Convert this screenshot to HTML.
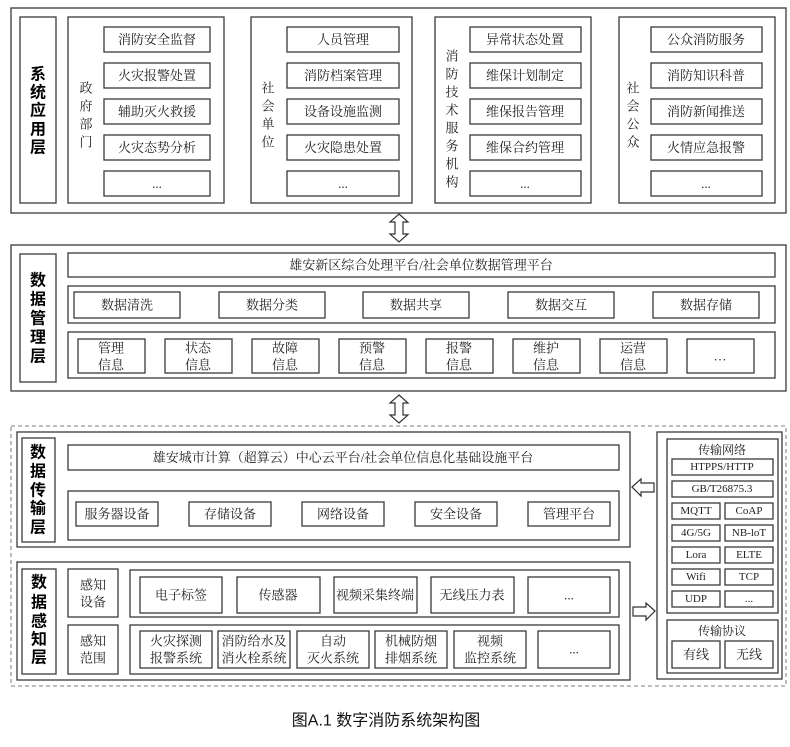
<!DOCTYPE html>
<html><head><meta charset="utf-8"><style>
body{margin:0;background:#fff}
svg{display:block}
rect{fill:#fff;stroke:#3a3a3a;stroke-width:1.3}
rect.d{stroke:#999;stroke-dasharray:4 3}
text{font-family:"Liberation Serif","Noto Serif CJK SC","Noto Sans CJK SC",serif;font-size:13px;fill:#222;text-anchor:middle;dominant-baseline:central}
text.b{font-family:"Liberation Sans","Noto Sans CJK SC",sans-serif;font-weight:bold;font-size:16px;fill:#000}
text.s{font-size:11px}
path.ar{fill:#fff;stroke:#333;stroke-width:1.2}
</style></head><body>
<svg width="790" height="747" viewBox="0 0 790 747" xmlns="http://www.w3.org/2000/svg">
<!-- System application layer -->
<rect x="11" y="8" width="775" height="205"/>
<rect x="20" y="17" width="36" height="186"/>
<text class="b" x="38" y="75">系</text><text class="b" x="38" y="93">统</text><text class="b" x="38" y="111">应</text><text class="b" x="38" y="130">用</text><text class="b" x="38" y="148">层</text>

<rect x="68" y="17" width="156" height="186"/>
<text x="86" y="88">政</text><text x="86" y="106">府</text><text x="86" y="124">部</text><text x="86" y="142">门</text>
<rect x="104" y="27" width="106" height="25"/><text x="157" y="39.5">消防安全监督</text>
<rect x="104" y="63" width="106" height="25"/><text x="157" y="75.5">火灾报警处置</text>
<rect x="104" y="99" width="106" height="25"/><text x="157" y="111.5">辅助灭火救援</text>
<rect x="104" y="135" width="106" height="25"/><text x="157" y="147.5">火灾态势分析</text>
<rect x="104" y="171" width="106" height="25"/><text x="157" y="183.5">...</text>

<rect x="251" y="17" width="161" height="186"/>
<text x="268" y="88">社</text><text x="268" y="106">会</text><text x="268" y="124">单</text><text x="268" y="142">位</text>
<rect x="287" y="27" width="112" height="25"/><text x="343" y="39.5">人员管理</text>
<rect x="287" y="63" width="112" height="25"/><text x="343" y="75.5">消防档案管理</text>
<rect x="287" y="99" width="112" height="25"/><text x="343" y="111.5">设备设施监测</text>
<rect x="287" y="135" width="112" height="25"/><text x="343" y="147.5">火灾隐患处置</text>
<rect x="287" y="171" width="112" height="25"/><text x="343" y="183.5">...</text>

<rect x="435" y="17" width="156" height="186"/>
<text x="452" y="56">消</text><text x="452" y="74">防</text><text x="452" y="92">技</text><text x="452" y="110">术</text><text x="452" y="128">服</text><text x="452" y="146">务</text><text x="452" y="164">机</text><text x="452" y="182">构</text>
<rect x="470" y="27" width="111" height="25"/><text x="525" y="39.5">异常状态处置</text>
<rect x="470" y="63" width="111" height="25"/><text x="525" y="75.5">维保计划制定</text>
<rect x="470" y="99" width="111" height="25"/><text x="525" y="111.5">维保报告管理</text>
<rect x="470" y="135" width="111" height="25"/><text x="525" y="147.5">维保合约管理</text>
<rect x="470" y="171" width="111" height="25"/><text x="525" y="183.5">...</text>

<rect x="619" y="17" width="156" height="186"/>
<text x="633" y="88">社</text><text x="633" y="106">会</text><text x="633" y="124">公</text><text x="633" y="142">众</text>
<rect x="651" y="27" width="111" height="25"/><text x="706" y="39.5">公众消防服务</text>
<rect x="651" y="63" width="111" height="25"/><text x="706" y="75.5">消防知识科普</text>
<rect x="651" y="99" width="111" height="25"/><text x="706" y="111.5">消防新闻推送</text>
<rect x="651" y="135" width="111" height="25"/><text x="706" y="147.5">火情应急报警</text>
<rect x="651" y="171" width="111" height="25"/><text x="706" y="183.5">...</text>

<!-- arrow 1 -->
<path class="ar" d="M399 214 L408 222 L403 222 L403 234 L408 234 L399 242 L390 234 L395 234 L395 222 L390 222 Z"/>

<!-- Data management layer -->
<rect x="11" y="245" width="775" height="146"/>
<rect x="20" y="254" width="36" height="128"/>
<text class="b" x="38" y="281">数</text><text class="b" x="38" y="300">据</text><text class="b" x="38" y="319">管</text><text class="b" x="38" y="338">理</text><text class="b" x="38" y="357">层</text>
<rect x="68" y="253" width="707" height="24"/><text x="421" y="265">雄安新区综合处理平台/社会单位数据管理平台</text>
<rect x="68" y="286" width="707" height="37"/>
<rect x="74" y="292" width="106" height="26"/><text x="127" y="305">数据清洗</text>
<rect x="219" y="292" width="106" height="26"/><text x="272" y="305">数据分类</text>
<rect x="363" y="292" width="106" height="26"/><text x="416" y="305">数据共享</text>
<rect x="508" y="292" width="106" height="26"/><text x="561" y="305">数据交互</text>
<rect x="653" y="292" width="106" height="26"/><text x="706" y="305">数据存储</text>
<rect x="68" y="332" width="707" height="46"/>
<rect x="78" y="339" width="67" height="34"/><text x="111" y="348">管理</text><text x="111" y="365">信息</text>
<rect x="165" y="339" width="67" height="34"/><text x="198" y="348">状态</text><text x="198" y="365">信息</text>
<rect x="252" y="339" width="67" height="34"/><text x="285" y="348">故障</text><text x="285" y="365">信息</text>
<rect x="339" y="339" width="67" height="34"/><text x="372" y="348">预警</text><text x="372" y="365">信息</text>
<rect x="426" y="339" width="67" height="34"/><text x="459" y="348">报警</text><text x="459" y="365">信息</text>
<rect x="513" y="339" width="67" height="34"/><text x="546" y="348">维护</text><text x="546" y="365">信息</text>
<rect x="600" y="339" width="67" height="34"/><text x="633" y="348">运营</text><text x="633" y="365">信息</text>
<rect x="687" y="339" width="67" height="34"/><text x="720" y="356">…</text>

<!-- arrow 2 -->
<path class="ar" d="M399 395 L408 403 L403 403 L403 415 L408 415 L399 423 L390 415 L395 415 L395 403 L390 403 Z"/>

<!-- dashed container -->
<rect class="d" x="11" y="426" width="775" height="260"/>

<!-- Transmission layer -->
<rect x="17" y="432" width="613" height="115"/>
<rect x="22" y="438" width="33" height="104"/>
<text class="b" x="38" y="453">数</text><text class="b" x="38" y="472">据</text><text class="b" x="38" y="491">传</text><text class="b" x="38" y="509">输</text><text class="b" x="38" y="528">层</text>
<rect x="68" y="445" width="551" height="25"/><text x="343" y="457.5">雄安城市计算（超算云）中心云平台/社会单位信息化基础设施平台</text>
<rect x="68" y="491" width="551" height="49"/>
<rect x="76" y="502" width="82" height="24"/><text x="117" y="514">服务器设备</text>
<rect x="189" y="502" width="82" height="24"/><text x="230" y="514">存储设备</text>
<rect x="302" y="502" width="82" height="24"/><text x="343" y="514">网络设备</text>
<rect x="415" y="502" width="82" height="24"/><text x="456" y="514">安全设备</text>
<rect x="528" y="502" width="82" height="24"/><text x="569" y="514">管理平台</text>

<!-- Perception layer -->
<rect x="17" y="562" width="613" height="118"/>
<rect x="22" y="569" width="34" height="105"/>
<text class="b" x="39" y="583">数</text><text class="b" x="39" y="603">据</text><text class="b" x="39" y="622">感</text><text class="b" x="39" y="640">知</text><text class="b" x="39" y="658">层</text>
<rect x="68" y="569" width="50" height="48"/><text x="93" y="585">感知</text><text x="93" y="602">设备</text>
<rect x="68" y="625" width="50" height="49"/><text x="93" y="641">感知</text><text x="93" y="658">范围</text>
<rect x="130" y="570" width="489" height="47"/>
<rect x="140" y="577" width="82" height="36"/><text x="181" y="595">电子标签</text>
<rect x="237" y="577" width="83" height="36"/><text x="278" y="595">传感器</text>
<rect x="334" y="577" width="83" height="36"/><text x="375" y="595">视频采集终端</text>
<rect x="431" y="577" width="83" height="36"/><text x="472" y="595">无线压力表</text>
<rect x="528" y="577" width="82" height="36"/><text x="569" y="595">...</text>
<rect x="130" y="625" width="489" height="49"/>
<rect x="140" y="631" width="72" height="37"/><text x="176" y="641">火灾探测</text><text x="176" y="658">报警系统</text>
<rect x="218" y="631" width="72" height="37"/><text x="254" y="641">消防给水及</text><text x="254" y="658">消火栓系统</text>
<rect x="297" y="631" width="72" height="37"/><text x="333" y="641">自动</text><text x="333" y="658">灭火系统</text>
<rect x="375" y="631" width="72" height="37"/><text x="411" y="641">机械防烟</text><text x="411" y="658">排烟系统</text>
<rect x="454" y="631" width="72" height="37"/><text x="490" y="641">视频</text><text x="490" y="658">监控系统</text>
<rect x="538" y="631" width="72" height="37"/><text x="574" y="649">...</text>

<!-- side arrows -->
<path class="ar" d="M632 487 L641 479 L641 483 L654 483 L654 492 L641 492 L641 496 Z"/>
<path class="ar" d="M655 611 L646 603 L646 607 L633 607 L633 616 L646 616 L646 620 Z"/>

<!-- Right panel -->
<rect x="657" y="432" width="125" height="247"/>
<rect x="667" y="439" width="111" height="174"/>
<text x="722" y="450" style="font-size:12px">传输网络</text>
<rect x="672" y="459" width="101" height="16"/><text class="s" x="722" y="467">HTPPS/HTTP</text>
<rect x="672" y="481" width="101" height="16"/><text class="s" x="722" y="489">GB/T26875.3</text>
<rect x="672" y="503" width="48" height="16"/><text class="s" x="696" y="511">MQTT</text>
<rect x="725" y="503" width="48" height="16"/><text class="s" x="749" y="511">CoAP</text>
<rect x="672" y="525" width="48" height="16"/><text class="s" x="696" y="533">4G/5G</text>
<rect x="725" y="525" width="48" height="16"/><text class="s" x="749" y="533">NB-loT</text>
<rect x="672" y="547" width="48" height="16"/><text class="s" x="696" y="555">Lora</text>
<rect x="725" y="547" width="48" height="16"/><text class="s" x="749" y="555">ELTE</text>
<rect x="672" y="569" width="48" height="16"/><text class="s" x="696" y="577">Wifi</text>
<rect x="725" y="569" width="48" height="16"/><text class="s" x="749" y="577">TCP</text>
<rect x="672" y="591" width="48" height="16"/><text class="s" x="696" y="599">UDP</text>
<rect x="725" y="591" width="48" height="16"/><text class="s" x="749" y="599">...</text>
<rect x="667" y="620" width="111" height="53"/>
<text x="722" y="631" style="font-size:12px">传输协议</text>
<rect x="672" y="641" width="48" height="27"/><text x="696" y="654.5">有线</text>
<rect x="725" y="641" width="48" height="27"/><text x="749" y="654.5">无线</text>

<!-- caption -->
<text x="386" y="721" style="font-family:'Liberation Sans','Noto Sans CJK SC',sans-serif;font-size:16px;fill:#111">图A.1  数字消防系统架构图</text>
</svg>
</body></html>
